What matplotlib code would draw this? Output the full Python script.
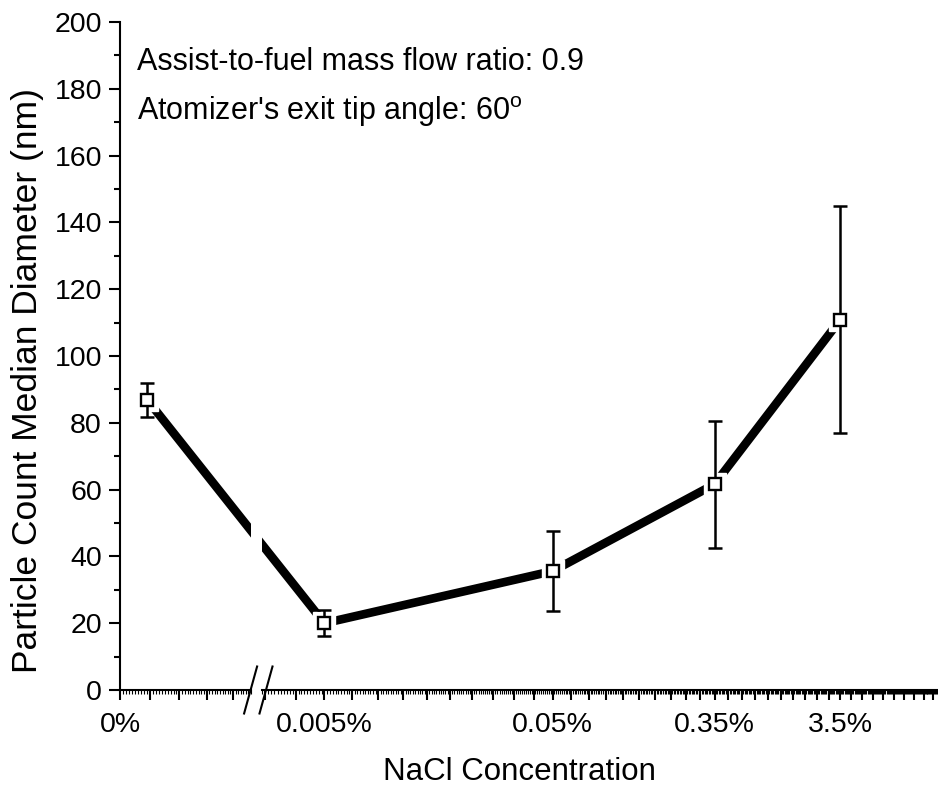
import numpy as np
import matplotlib
matplotlib.use('Agg')
import matplotlib.pyplot as plt
from matplotlib.lines import Line2D

plt.rcParams['font.family'] = ['Liberation Sans', 'DejaVu Sans']
plt.rcParams['mathtext.fontset'] = 'custom'
plt.rcParams['mathtext.rm'] = 'Liberation Sans'

# data
conc_labels = ['0%', '0.005%', '0.05%', '0.35%', '3.5%']
label_pos = [1.8, 2, 3, 4, 5]          # where the tick labels sit on the (log) axis
point_pos = [1.89, 2, 3, 4, 5]         # where the points sit
cmd = [86.8, 20.0, 35.6, 61.6, 110.8]  # count median diameter, nm
cmd_err = [5.1, 3.9, 12.0, 19.0, 34.0]

fig = plt.figure(figsize=(9.38, 7.91), dpi=100)
W, H = 938, 791
bottom = (H - 690) / H
height = 668 / H
axL = fig.add_axes([120 / W, bottom, 130.6 / W, height])
axR = fig.add_axes([262 / W, bottom, 676 / W, height])

for ax in (axL, axR):
    ax.set_xscale('log')
    ax.set_ylim(0, 200)
    ax.spines['top'].set_visible(False)
    ax.spines['right'].set_visible(False)
    ax.spines['left'].set_linewidth(1.5)
    ax.spines['bottom'].set_linewidth(1.5)
    ax.patch.set_alpha(0)
    ax.xaxis.set_minor_formatter(plt.NullFormatter())
    ax.tick_params(axis='x', which='major', direction='out', length=7, width=1.5,
                   labelsize=20.5, pad=9)
    ax.tick_params(axis='x', which='minor', direction='out', length=3, width=0.8)

axL.set_xlim(1.8, 2.27)
axR.set_xlim(1.79, 5.95)

# ticks every 0.1, minor every 0.01
majL = np.arange(18, 23) / 10
majR = np.arange(18, 60) / 10
axL.set_xticks(majL)
axL.set_xticklabels([conc_labels[0] if np.isclose(t, label_pos[0]) else '' for t in majL])
axL.set_xticks(np.arange(180, 228) / 100, minor=True)
axR.set_xticks(majR)
lab_r = []
for t in majR:
    s = ''
    for p, l in zip(label_pos[1:], conc_labels[1:]):
        if np.isclose(t, p):
            s = l
    lab_r.append(s)
axR.set_xticklabels(lab_r)
axR.set_xticks(np.arange(179, 596) / 100, minor=True)

# y axis only on the left piece
axL.set_yticks(np.arange(0, 201, 20))
axL.set_yticks(np.arange(10, 200, 20), minor=True)
axL.tick_params(axis='y', which='major', direction='out', length=8, width=1.5,
                labelsize=20.5, pad=5)
axL.tick_params(axis='y', which='minor', direction='out', length=4.5, width=1.5)
axR.spines['left'].set_visible(False)
axR.yaxis.set_visible(False)

# line crossing the break: each piece clipped by its own axes
p0_in_R = axR.transData.inverted().transform(axL.transData.transform((point_pos[0], cmd[0])))
p1_in_L = axL.transData.inverted().transform(axR.transData.transform((point_pos[1], cmd[1])))
axL.plot([point_pos[0], p1_in_L[0]], [cmd[0], p1_in_L[1]], color='black', lw=6.2,
         solid_capstyle='butt', zorder=2)
axR.plot([p0_in_R[0]] + point_pos[1:], [p0_in_R[1]] + cmd[1:], color='black', lw=6.2,
         solid_capstyle='butt', solid_joinstyle='miter', zorder=2)

for ax, xs, ys, es in ((axL, point_pos[:1], cmd[:1], cmd_err[:1]),
                       (axR, point_pos[1:], cmd[1:], cmd_err[1:])):
    # white mask so the thick line stops short of the symbols
    ax.plot(xs, ys, ls='none', marker='s', ms=15.5, mfc='white', mec='white', zorder=3)
    ax.errorbar(xs, ys, yerr=es, fmt='none', ecolor='black', elinewidth=1.8,
                capsize=5, capthick=1.8, zorder=4)
    ax.plot(xs, ys, ls='none', marker='s', ms=8.8, mfc='white', mec='black', mew=1.7,
            zorder=5)

# break marks
dx, dy = 6.5, 23.5
for ax, cx in ((axL, 1.0), (axR, 4 / 676)):
    ax.add_line(Line2D([cx - dx / ax.bbox.width, cx + dx / ax.bbox.width],
                       [-dy / 668, dy / 668], transform=ax.transAxes, color='black',
                       lw=1.5, clip_on=False, zorder=6))

axL.set_ylabel('Particle Count Median Diameter (nm)', fontsize=25.5)
axL.yaxis.set_label_coords(-0.585, 0.464)
fig.text(519 / W, 1 - 772 / H, 'NaCl Concentration', fontsize=22.5, ha='center', va='center')

fig.text(137 / W, 1 - 62 / H, 'Assist-to-fuel mass flow ratio: 0.9', fontsize=22,
         ha='left', va='center')
fig.text(137 / W, 1 - 112 / H, "Atomizer's exit tip angle: 60$^{\\mathrm{o}}$", fontsize=22,
         ha='left', va='center')

fig.savefig('out.png', dpi=100)
